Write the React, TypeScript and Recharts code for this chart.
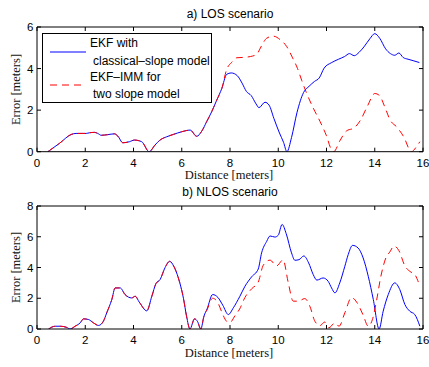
import React from 'react';
import { LineChart, Line, XAxis, YAxis, Legend } from 'recharts';

const distanceTicks = [0, 2, 4, 6, 8, 10, 12, 14, 16];
const losErrorTicks = [0, 2, 4, 6];
const nlosErrorTicks = [0, 2, 4, 6, 8];

// a) LOS scenario — EKF with classical-slope model
const losEkfX = [0.45, 0.93, 1.42, 1.62, 2.04, 2.17, 2.38, 2.52, 2.66, 2.93, 3.21, 3.35, 3.56, 3.83, 4.04, 4.34, 4.65, 4.89, 5.1, 5.38, 5.65, 6.0, 6.35, 6.62, 6.83, 7.03, 7.24, 7.45, 7.66, 7.86, 8.05, 8.3, 8.5, 8.68, 8.88, 9.08, 9.2, 9.45, 9.62, 9.82, 10.05, 10.22, 10.36, 10.55, 10.78, 11.05, 11.28, 11.5, 11.7, 11.9, 12.2, 12.5, 12.75, 12.95, 13.15, 13.35, 13.55, 13.8, 14.0, 14.21, 14.45, 14.65, 14.83, 15.0, 15.18, 15.38, 15.59, 15.85];
const losEkfY = [0, 0.4, 0.83, 0.88, 0.88, 0.91, 0.93, 0.88, 0.79, 0.82, 0.86, 0.75, 0.43, 0.48, 0.56, 0.48, 0, 0.32, 0.56, 0.72, 0.83, 0.96, 1.04, 0.74, 0.99, 1.44, 1.92, 2.48, 3.04, 3.72, 3.79, 3.66, 3.3, 2.9, 2.7, 2.3, 2.12, 2.38, 2.24, 1.6, 0.9, 0.45, 0, 0.68, 1.9, 2.85, 3.15, 3.38, 3.55, 4.02, 4.28, 4.45, 4.58, 4.72, 4.62, 4.78, 5.04, 5.44, 5.68, 5.45, 4.95, 4.72, 4.64, 4.75, 4.53, 4.45, 4.38, 4.29];

// a) LOS scenario — EKF-IMM for two slope model
const losImmX = [0.45, 0.93, 1.42, 1.62, 2.04, 2.17, 2.38, 2.52, 2.66, 2.93, 3.21, 3.35, 3.56, 3.83, 4.04, 4.34, 4.65, 4.89, 5.1, 5.38, 5.65, 6.0, 6.35, 6.62, 6.83, 7.03, 7.24, 7.45, 7.66, 7.86, 8.07, 8.28, 8.58, 8.85, 9.1, 9.31, 9.52, 9.79, 10.07, 10.35, 10.58, 10.8, 10.97, 11.18, 11.45, 11.73, 12.0, 12.21, 12.3, 12.55, 12.83, 13.15, 13.4, 13.7, 14.0, 14.2, 14.4, 14.65, 14.92, 15.2, 15.52, 15.73, 15.87];
const losImmY = [0, 0.4, 0.83, 0.88, 0.88, 0.91, 0.93, 0.88, 0.79, 0.82, 0.86, 0.75, 0.43, 0.48, 0.56, 0.48, 0, 0.32, 0.56, 0.72, 0.83, 0.96, 1.04, 0.74, 0.99, 1.44, 1.92, 2.48, 3.04, 3.95, 4.3, 4.52, 4.54, 4.58, 4.68, 5.1, 5.46, 5.56, 5.4, 5.06, 4.55, 4.0, 3.44, 2.8, 2.1, 1.46, 0.76, 0.08, 0, 0.52, 1.0, 1.15, 1.5, 2.2, 2.8, 2.7, 2.2, 1.5, 1.18, 0.72, 0, 0.24, 0.48];

// b) NLOS scenario — EKF with classical-slope model
const nlosEkfX = [0.48, 0.75, 0.96, 1.24, 1.37, 1.58, 1.79, 1.93, 2.13, 2.34, 2.55, 2.75, 2.89, 3.1, 3.24, 3.45, 3.65, 3.93, 4.07, 4.24, 4.55, 4.76, 4.93, 5.1, 5.31, 5.5, 5.68, 5.86, 6.07, 6.2, 6.34, 6.53, 6.65, 6.79, 6.92, 7.05, 7.28, 7.5, 7.7, 7.93, 8.14, 8.41, 8.62, 8.9, 9.17, 9.31, 9.52, 9.66, 9.86, 10.0, 10.16, 10.33, 10.55, 10.69, 10.86, 11.06, 11.26, 11.45, 11.6, 11.86, 12.07, 12.21, 12.35, 12.55, 12.76, 12.9, 13.08, 13.31, 13.52, 13.73, 13.94, 14.18, 14.35, 14.56, 14.83, 15.04, 15.25, 15.45, 15.66, 15.87];
const nlosEkfY = [0, 0.18, 0.18, 0.1, 0, 0.18, 0.4, 0.66, 0.62, 0.4, 0.23, 0.5, 1.05, 1.91, 2.67, 2.67, 2.24, 2.02, 2.13, 1.75, 1.18, 2.13, 2.95, 3.21, 4.0, 4.4, 4.05, 3.32, 2.0, 0.83, 0, 0.66, 0.5, 0, 0.83, 1.3, 2.24, 2.05, 1.55, 0.94, 1.38, 2.13, 2.78, 3.4, 3.9, 4.95, 5.7, 6.05, 5.98, 6.1, 6.8, 6.2, 4.95, 4.47, 4.51, 4.75, 4.3, 3.54, 3.18, 3.32, 3.1, 2.67, 2.35, 3.0, 4.08, 4.84, 5.44, 5.27, 4.62, 3.43, 1.92, 0, 1.16, 2.24, 3.0, 2.56, 1.59, 1.16, 0.94, 0.18];

// b) NLOS scenario — EKF-IMM for two slope model
const nlosImmX = [0.48, 0.75, 0.96, 1.24, 1.37, 1.58, 1.79, 1.93, 2.13, 2.34, 2.55, 2.75, 2.89, 3.1, 3.24, 3.45, 3.65, 3.93, 4.07, 4.24, 4.55, 4.76, 4.93, 5.1, 5.31, 5.5, 5.68, 5.86, 6.07, 6.2, 6.34, 6.53, 6.65, 6.79, 6.92, 7.05, 7.28, 7.5, 7.66, 7.86, 8.0, 8.2, 8.4, 8.62, 8.9, 9.17, 9.38, 9.66, 9.93, 10.2, 10.41, 10.62, 10.83, 11.1, 11.31, 11.52, 11.73, 11.92, 12.1, 12.35, 12.52, 12.76, 13.04, 13.25, 13.52, 13.73, 13.9, 14.07, 14.25, 14.49, 14.62, 14.8, 15.0, 15.25, 15.5, 15.66, 15.87];
const nlosImmY = [0, 0.18, 0.18, 0.1, 0, 0.18, 0.4, 0.66, 0.62, 0.4, 0.23, 0.5, 1.05, 1.91, 2.67, 2.67, 2.24, 2.02, 2.13, 1.75, 1.18, 2.13, 2.95, 3.21, 4.0, 4.4, 4.05, 3.32, 2.0, 0.83, 0, 0.66, 0.5, 0, 0.83, 1.25, 2.0, 1.7, 1.1, 0.5, 0.42, 0.85, 1.3, 2.05, 2.62, 3.05, 4.15, 4.48, 4.1, 4.5, 3.05, 1.81, 1.81, 1.98, 1.48, 0.5, 0.22, 0.45, 0.08, 0.4, 0.18, 1.05, 2.05, 1.75, 0.9, 0.18, 0.6, 1.81, 3.4, 4.73, 5.0, 5.4, 5.1, 4.1, 3.7, 3.54, 2.78];

const toPoints = (xs: number[], ys: number[]) => xs.map((x, i) => ({ x, y: ys[i] }));

const SANS = '"Liberation Sans", Arial, Helvetica, sans-serif';
const SERIF = '"Liberation Serif", "DejaVu Serif", serif';
const BLUE = '#0000ff';
const RED = '#ff0000';
const DASH = '7 5';

const BottomTick = (props: any) => {
  const { x, y, payload } = props;
  return (
    <g>
      <line x1={x} x2={x} y1={y} y2={y - 4} stroke="#000" strokeWidth={1} />
      <text x={x} y={y + 15} textAnchor="middle" fontFamily={SANS} fontSize={11.5} fill="#000">
        {payload.value}
      </text>
    </g>
  );
};
const TopTick = (props: any) => {
  const { x, y } = props;
  return <line x1={x} x2={x} y1={y} y2={y + 4} stroke="#000" strokeWidth={1} />;
};
const LeftTick = (props: any) => {
  const { x, y, payload } = props;
  return (
    <g>
      <line x1={x} x2={x + 4} y1={y} y2={y} stroke="#000" strokeWidth={1} />
      <text x={x - 3.5} y={y} dy="0.36em" textAnchor="end" fontFamily={SANS} fontSize={11.5} fill="#000">
        {payload.value}
      </text>
    </g>
  );
};
const RightTick = (props: any) => {
  const { x, y } = props;
  return <line x1={x} x2={x - 4} y1={y} y2={y} stroke="#000" strokeWidth={1} />;
};

const LegendBox = () => (
  <svg width={171} height={71} style={{ display: 'block' }}>
    <rect x={0.5} y={0.5} width={169} height={69} fill="#fff" stroke="#000" strokeWidth={1} />
    <line x1={8} x2={44} y1={19} y2={19} stroke={BLUE} strokeWidth={1} />
    <text x={48} y={14} fontFamily={SANS} fontSize={12} fill="#000">EKF with</text>
    <text x={51} y={32} fontFamily={SANS} fontSize={12} fill="#000">classical–slope model</text>
    <line x1={8} x2={44} y1={52} y2={52} stroke={RED} strokeWidth={1} strokeDasharray={DASH} />
    <text x={48} y={48} fontFamily={SANS} fontSize={12} fill="#000">EKF–IMM for</text>
    <text x={51} y={65} fontFamily={SANS} fontSize={12} fill="#000">two slope model</text>
  </svg>
);

type PanelProps = {
  ekf: { x: number; y: number }[];
  imm: { x: number; y: number }[];
  yMax: number;
  yTicks: number[];
  height: number;
  marginTop: number;
  marginBottom: number;
  showLegend: boolean;
};

const Panel = ({ ekf, imm, yMax, yTicks, height, marginTop, marginBottom, showLegend }: PanelProps) => (
  <LineChart
    width={429}
    height={height}
    margin={{ top: marginTop, right: 1, bottom: marginBottom, left: 7 }}
  >
    <XAxis
      xAxisId="b"
      type="number"
      dataKey="x"
      domain={[0, 16]}
      ticks={distanceTicks}
      interval={0}
      height={20}
      tickSize={0}
      tickMargin={0}
      tickLine={false}
      axisLine={{ stroke: '#000', strokeWidth: 1 }}
      tick={BottomTick}
      allowDataOverflow
    />
    <XAxis
      xAxisId="t"
      orientation="top"
      type="number"
      dataKey="x"
      domain={[0, 16]}
      ticks={distanceTicks}
      interval={0}
      height={5}
      tickSize={0}
      tickMargin={0}
      tickLine={false}
      axisLine={{ stroke: '#000', strokeWidth: 1 }}
      tick={TopTick}
      allowDataOverflow
    />
    <YAxis
      yAxisId="l"
      type="number"
      domain={[0, yMax]}
      ticks={yTicks}
      interval={0}
      width={30}
      tickSize={0}
      tickMargin={0}
      tickLine={false}
      axisLine={{ stroke: '#000', strokeWidth: 1 }}
      tick={LeftTick}
      allowDataOverflow
    />
    <YAxis
      yAxisId="r"
      orientation="right"
      type="number"
      domain={[0, yMax]}
      ticks={yTicks}
      interval={0}
      width={5}
      tickSize={0}
      tickMargin={0}
      tickLine={false}
      axisLine={{ stroke: '#000', strokeWidth: 1 }}
      tick={RightTick}
      allowDataOverflow
    />
    <Line
      xAxisId="b"
      yAxisId="l"
      data={ekf}
      dataKey="y"
      type="monotone"
      stroke={BLUE}
      strokeWidth={1}
      dot={false}
      activeDot={false}
      isAnimationActive={false}
    />
    <Line
      xAxisId="b"
      yAxisId="l"
      data={imm}
      dataKey="y"
      type="monotone"
      stroke={RED}
      strokeWidth={1}
      strokeDasharray={DASH}
      dot={false}
      activeDot={false}
      isAnimationActive={false}
    />
    {showLegend && (
      <Legend
        layout="horizontal"
        verticalAlign="middle"
        align="center"
        wrapperStyle={{ position: 'absolute', left: 42, top: 33, width: 171, height: 71 }}
        content={() => <LegendBox />}
      />
    )}
  </LineChart>
);

export default function App() {
  return (
    <div style={{ position: 'absolute', left: 0, top: 0, width: 429, height: 367, background: '#fff' }}>
      <div style={{ position: 'absolute', left: 0, top: 0 }}>
        <Panel
          ekf={toPoints(losEkfX, losEkfY)}
          imm={toPoints(losImmX, losImmY)}
          yMax={6}
          yTicks={losErrorTicks}
          height={180}
          marginTop={22}
          marginBottom={8.3}
          showLegend
        />
      </div>
      <div style={{ position: 'absolute', left: 0, top: 180 }}>
        <Panel
          ekf={toPoints(nlosEkfX, nlosEkfY)}
          imm={toPoints(nlosImmX, nlosImmY)}
          yMax={8}
          yTicks={nlosErrorTicks}
          height={187}
          marginTop={21}
          marginBottom={18}
          showLegend={false}
        />
      </div>
      <svg
        width={429}
        height={367}
        style={{ position: 'absolute', left: 0, top: 0, pointerEvents: 'none' }}
      >
        <text x={230} y={18} textAnchor="middle" fontFamily={SANS} fontSize={12} fill="#000">a) LOS scenario</text>
        <text x={230} y={196} textAnchor="middle" fontFamily={SANS} fontSize={12} fill="#000">b) NLOS scenario</text>
        <text x={229} y={179} textAnchor="middle" fontFamily={SERIF} fontSize={12.5} fill="#111">Distance [meters]</text>
        <text x={229} y={357} textAnchor="middle" fontFamily={SERIF} fontSize={12.5} fill="#111">Distance [meters]</text>
        <text x={20} y={89.5} textAnchor="middle" transform="rotate(-90 20 89.5)" fontFamily={SERIF} fontSize={12.5} fill="#111">Error [meters]</text>
        <text x={20} y={267.5} textAnchor="middle" transform="rotate(-90 20 267.5)" fontFamily={SERIF} fontSize={12.5} fill="#111">Error [meters]</text>
      </svg>
    </div>
  );
}
